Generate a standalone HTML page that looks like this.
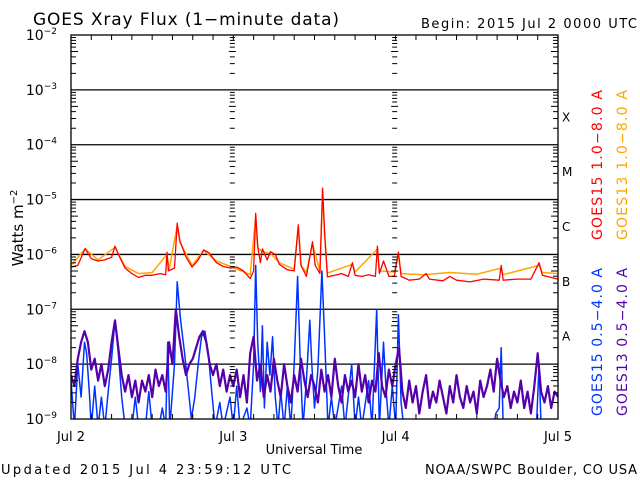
<!DOCTYPE html>
<html><head><meta charset="utf-8"><style>
body{margin:0;background:#fff;width:640px;height:480px;overflow:hidden}
svg text{font-family:"DejaVu Sans","Liberation Sans",sans-serif}
</style></head><body>
<svg id="chart" width="640" height="480" viewBox="0 0 640 480" xmlns="http://www.w3.org/2000/svg">
<text x="33" y="25" font-size="17" textLength="306" lengthAdjust="spacing" fill="#000">GOES Xray Flux (1−minute data)</text>
<text x="421" y="28" font-size="13" textLength="216" lengthAdjust="spacing" fill="#000">Begin:  2015 Jul 2 0000 UTC</text>
<text transform="translate(23,228) rotate(-90)" text-anchor="middle" font-size="15" fill="#000">Watts m<tspan dy="-6" font-size="10">−2</tspan></text>
<text x="314" y="454" text-anchor="middle" font-size="13" fill="#000">Universal Time</text>
<text x="1" y="474" font-size="13" textLength="290" lengthAdjust="spacing" fill="#000">Updated 2015 Jul  4 23:59:12 UTC</text>
<text x="425" y="474" font-size="13" textLength="212" lengthAdjust="spacing" fill="#000">NOAA/SWPC Boulder, CO USA</text>
<text transform="translate(602,240) rotate(-90)" font-size="14" textLength="150" lengthAdjust="spacing" fill="#ff0000">GOES15 1.0−8.0 A</text>
<text transform="translate(627,240) rotate(-90)" font-size="14" textLength="150" lengthAdjust="spacing" fill="#ffa500">GOES13 1.0−8.0 A</text>
<text transform="translate(602,416) rotate(-90)" font-size="14" textLength="148" lengthAdjust="spacing" fill="#0033ff">GOES15 0.5−4.0 A</text>
<text transform="translate(627,416) rotate(-90)" font-size="14" textLength="148" lengthAdjust="spacing" fill="#5500aa">GOES13 0.5−4.0 A</text>
<defs><clipPath id="pc"><rect x="71" y="35" width="487" height="384"/></clipPath></defs>
<g id="grid"></g>
<g id="series" clip-path="url(#pc)"></g>
<g id="axes"></g>
</svg>
<script>
const decades=[-2,-3,-4,-5,-6,-7,-8,-9];
const dayLabels=["Jul 2","Jul 3","Jul 4","Jul 5"];
const classLabels=["X","M","C","B","A"];
const classLogs=[-3.5,-4.5,-5.5,-6.5,-7.5];
const redT=[0,1,2.1,3,4,5,6,6.5,7.2,8,9,10,11,12,13.2,14,14.2,14.4,15.3,15.7,16.1,17,17.9,18.8,19.6,20.4,21.5,22.5,23.6,24.5,25.5,26.5,27,27.3,27.6,28,28.3,29,29.5,30.2,30.8,32,33,33.6,34,34.8,35.7,36.1,36.8,37.2,37.5,37.9,39,40,41,41.6,42,43,44,45,45.3,45.6,46.2,47,47.8,48.4,48.8,50,51.5,52.5,53,55,56,57,59,61,63.3,63.6,63.9,66,68,69.2,69.7,71,72];
const redV=[-6.23,-6.2,-5.89,-6.08,-6.12,-6.1,-6.05,-5.85,-6.05,-6.25,-6.35,-6.42,-6.38,-6.38,-6.35,-6.37,-5.96,-6.3,-6.25,-5.43,-5.75,-6.05,-6.23,-6.1,-5.92,-5.97,-6.15,-6.22,-6.25,-6.23,-6.3,-6.44,-6.3,-5.25,-5.85,-6.15,-5.9,-6.1,-5.95,-6.0,-6.18,-6.28,-6.3,-5.46,-6.2,-6.4,-5.77,-6.2,-6.35,-4.79,-5.6,-6.41,-6.38,-6.35,-6.4,-6.15,-6.38,-6.4,-6.37,-6.4,-5.85,-6.35,-6.12,-6.4,-6.4,-5.96,-6.4,-6.47,-6.45,-6.35,-6.45,-6.48,-6.4,-6.47,-6.5,-6.45,-6.47,-6.2,-6.47,-6.45,-6.45,-6.15,-6.38,-6.42,-6.45];
const orangeT=[0,2.1,4,6.5,8,10,12,14.2,14.5,15.7,16.1,17.9,19.6,21.5,23.6,26.5,27.3,27.6,28.3,29.5,30.8,33,33.6,34,34.8,35.7,36.8,37.2,37.5,37.9,41.6,42,45.3,45.6,47.8,48.4,48.8,52,56,60,63.6,63.9,69.2,69.7,72];
const orangeV=[-6.2,-5.9,-6.1,-5.87,-6.22,-6.35,-6.33,-6.0,-6.28,-5.48,-5.78,-6.2,-5.93,-6.12,-6.22,-6.37,-5.3,-5.88,-5.95,-5.98,-6.15,-6.27,-5.5,-6.2,-6.33,-5.8,-6.3,-4.85,-5.65,-6.34,-6.18,-6.32,-5.9,-6.3,-6.32,-6.0,-6.35,-6.37,-6.33,-6.36,-6.25,-6.37,-6.2,-6.33,-6.35];
const blueT=[0,0.5,1,1.5,2,2.3,2.7,3,3.5,4,4.5,5,5.5,6,6.5,7,7.5,8,9,9.5,10,11,11.5,12,13,13.5,14,14.3,14.6,15.3,15.7,16.2,16.8,17.3,17.8,18.3,18.8,19.3,19.8,20.3,20.8,21.3,22,22.5,23.5,24,24.5,25,26,26.5,27,27.3,27.6,28,28.3,28.6,29,29.4,29.8,30.2,30.6,31,31.5,32,32.5,33,33.5,33.9,34.3,34.8,35.3,35.6,36,36.5,37.1,37.5,38,38.5,39,40,40.5,41.5,42,42.5,43,44,44.5,45.2,45.6,46.2,46.6,47,47.5,48,48.4,48.8,49.2,52,54,55,62.5,62.8,63.3,63.6,63.9,68.8,69.2,69.5,72];
const blueV=[-8.3,-9.2,-8.0,-8.6,-7.6,-7.8,-8.5,-9.2,-8.4,-9.2,-8.6,-9.2,-8.5,-7.9,-7.2,-7.8,-8.6,-9.2,-9.2,-8.6,-9.2,-9.2,-8.5,-9.2,-9.2,-8.8,-9.2,-7.6,-9.2,-8.0,-6.5,-7.2,-7.8,-8.4,-9.0,-8.6,-8.0,-7.5,-7.4,-7.8,-8.5,-9.2,-8.7,-9.2,-8.6,-9.2,-8.4,-9.2,-8.8,-9.2,-8.0,-6.2,-7.6,-8.5,-7.3,-8.8,-7.6,-8.2,-7.5,-8.6,-9.2,-8.5,-9.2,-8.4,-9.2,-8.0,-6.4,-8.0,-9.2,-8.3,-7.2,-8.0,-8.8,-8.1,-6.3,-7.5,-9.2,-8.6,-9.2,-8.4,-9.2,-8.0,-9.2,-8.6,-9.2,-8.3,-9.2,-7.0,-9.2,-7.6,-8.5,-9.2,-8.4,-9.2,-7.1,-8.7,-9.2,-9.2,-9.1,-9.2,-9.2,-8.9,-8.8,-7.7,-9.2,-9.2,-8.0,-9.2,-9.2];
const purpleV=[-8.2,-8.4,-7.9,-7.6,-7.4,-7.6,-8.1,-7.9,-8.3,-8.0,-8.4,-8.1,-7.6,-7.2,-7.7,-8.2,-8.5,-8.2,-8.6,-8.3,-8.7,-8.3,-8.5,-8.2,-8.6,-8.1,-8.4,-8.2,-8.5,-7.6,-8.0,-7.0,-7.5,-7.9,-8.2,-8.0,-7.9,-7.7,-7.5,-7.4,-7.6,-8.0,-8.2,-8.0,-8.4,-8.1,-8.5,-8.2,-8.4,
-8.1,-8.6,-8.2,-8.7,-7.8,-7.5,-8.3,-8.0,-8.6,-8.2,-8.5,-7.9,-8.3,-8.6,-8.0,-8.4,-8.7,-8.2,-8.5,-7.9,-8.3,-8.6,-8.2,-8.4,-8.7,-8.1,-8.5,-8.2,-8.6,-7.9,-8.4,-8.7,-8.2,-8.5,-8.3,-8.6,-8.0,-8.5,-8.2,-8.7,-8.3,-8.5,-7.8,-8.4,-8.6,-8.1,-8.4,-8.0,
-7.7,-8.5,-8.8,-8.3,-8.7,-8.4,-8.9,-8.5,-8.2,-8.8,-8.5,-8.7,-8.3,-8.6,-8.9,-8.4,-8.7,-8.2,-8.6,-8.8,-8.4,-8.7,-8.5,-8.9,-8.3,-8.6,-8.4,-8.1,-8.5,-7.9,-8.3,-8.6,-8.4,-8.8,-8.5,-8.7,-8.3,-8.8,-8.5,-8.9,-8.4,-7.8,-8.5,-8.7,-8.4,-8.8,-8.5,-8.6];
const purpleStep=0.5;

const L=71,R=558,T=35,B=419;
const xs=h=>L+(R-L)*h/72;
const ys=v=>T+(-2-v)*(B-T)/7;
const NS="http://www.w3.org/2000/svg";
function mk(tag,attrs,parent){const e=document.createElementNS(NS,tag);for(const k in attrs)e.setAttribute(k,attrs[k]);parent.appendChild(e);return e;}
const grid=document.getElementById('grid'),axes=document.getElementById('axes'),series=document.getElementById('series');
decades.forEach(d=>{
  const y=ys(d);
  if(d<-2&&d>-9){const l=mk('line',{x1:L,x2:R,y1:y,y2:y,stroke:'#000','stroke-width':1.3},grid);
  
  }
  const t=mk('text',{x:57,y:y+5,'text-anchor':'end','font-size':14,fill:'#000'},axes);
  
  
  t.textContent='10';
  const s=mk('tspan',{dy:-6,'font-size':9},t);s.textContent='−'+(-d);
});
const ticksPath=[];
const dayX=[0,24,48,72].map(xs);
for(let d=-9;d<-2;d++){for(let m=2;m<=10;m++){const y=ys(d+Math.log10(m));
  const len=m===10?0:(m===5?7:5);
  dayX.forEach((x,i)=>{
    if(i===0)ticksPath.push(`M${x},${y}h${len}`);
    else if(i===3)ticksPath.push(`M${x},${y}h${-len}`);
    else ticksPath.push(`M${x-len/2-1},${y}h${len}`);
  });}}
for(let h=3;h<72;h+=3){const x=xs(h);ticksPath.push(`M${x},${T}v5M${x},${B}v-5`);}
const tk=mk('path',{d:ticksPath.join(''),stroke:'#000','stroke-width':1,fill:'none'},axes);


const fr=mk('rect',{x:L,y:T,width:R-L,height:B-T,fill:'none',stroke:'#000','stroke-width':1.3},axes);


dayLabels.forEach((lab,i)=>{
  const t=mk('text',{x:xs(i*24),y:441,'text-anchor':'middle','font-size':13,fill:'#000'},axes);
  
  
  t.textContent=lab;
});
classLabels.forEach((c,i)=>{
  const t=mk('text',{x:562,y:ys(classLogs[i])+4,'font-size':12,fill:'#000','font-family':'Liberation Serif, serif'},axes);
  
  
  t.textContent=c;
});
function line(tArr,vArr,color,name,w){
  const d=vArr.map((v,i)=>(i?'L':'M')+xs(tArr[i]).toFixed(1)+','+ys(Math.max(v,-9.15)).toFixed(1)).join('');
  const p=mk('path',{d:d,stroke:color,'stroke-width':w,fill:'none','stroke-linejoin':'round'},series);
  
  
}
line(orangeT,orangeV,'#ffa500','series-goes13-long',1.5);
line(redT,redV,'#ff0000','series-goes15-long',1.3);
line(blueT,blueV,'#0033ff','series-goes15-short',1.5);
line(purpleV.map((v,i)=>i*purpleStep),purpleV,'#5500aa','series-goes13-short',2.2);
</script>
</body></html>
